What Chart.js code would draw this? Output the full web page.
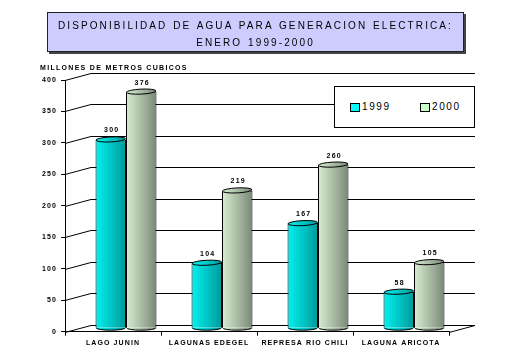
<!DOCTYPE html>
<html><head><meta charset="utf-8">
<script src="https://cdn.jsdelivr.net/npm/chart.js@4.4.0/dist/chart.umd.min.js"></script>
<style>
html,body{margin:0;padding:0;background:#fff;}
#wrap{position:relative;width:512px;height:357px;overflow:hidden;}
#c{position:absolute;left:0;top:0;}
#title{position:absolute;left:47px;top:12px;width:415px;height:38px;box-sizing:content-box;background:#CCCCFF;border:1px solid #222;box-shadow:2px 2px 0 #444;font-family:Arial,"Liberation Sans",sans-serif;font-size:10px;letter-spacing:2.1px;word-spacing:1px;text-align:center;line-height:17px;padding:0;color:#000;}
#title div:first-child{margin-top:4px;}
#legend{position:absolute;left:334px;top:86px;width:139px;height:40px;background:#fff;border:1px solid #000;font-family:Arial,"Liberation Sans",sans-serif;font-size:10px;letter-spacing:1.6px;color:#000;}
.li{position:absolute;top:16px;height:10px;line-height:10px;}
.sw{position:absolute;left:0;top:0;width:8px;height:7px;border:1px solid #000;}
.lt{position:absolute;left:12px;top:-1px;white-space:nowrap;}
</style>
</head><body>
<div id="wrap">
<canvas id="c" width="512" height="357"></canvas>
<div id="title"><div>DISPONIBILIDAD DE AGUA PARA GENERACION ELECTRICA:</div><div>ENERO 1999-2000</div></div>
<div id="legend"></div>
</div>
<script>
// ---- data ----
const categories = ['LAGO JUNIN', 'LAGUNAS EDEGEL', 'REPRESA RIO CHILI', 'LAGUNA ARICOTA'];
const seriesLabels = ['1999', '2000'];
const values1999 = [300, 104, 167, 58];
const values2000 = [376, 219, 260, 105];
const yTicks = [0, 50, 100, 150, 200, 250, 300, 350, 400];
const yAxisTitle = 'MILLONES DE METROS CUBICOS';

// ---- styles ----
const lightColors = ['#00F2F2', '#D8EFD2'];
const darkColors = ['#009A9A', '#7A8877'];
const legendColors = ['#00FFFF', '#CCFFCC'];
const CAT_PCT = 0.635;
const DX = 13, DY = -3.5;     // bar depth position
const GDX = 26, GDY = -7;     // back wall offset
const SMALL_FONT = 'bold 7px Arial, "Liberation Sans", sans-serif';

function barGradient(c) {
  const chart = c.chart;
  const xs = chart.scales && chart.scales.x;
  const i = c.datasetIndex;
  if (!xs || !xs.width || c.dataIndex === undefined) return lightColors[i];
  const cw = xs.width / categories.length;
  const w = cw * CAT_PCT / 2;
  const center = xs.getPixelForValue(c.dataIndex);
  const left = i === 0 ? center - w : center;
  const g = chart.ctx.createLinearGradient(left, 0, left + w, 0);
  g.addColorStop(0, lightColors[i]);
  g.addColorStop(1, darkColors[i]);
  return g;
}

const cylinderPlugin = {
  id: 'cylinder',
  beforeDraw(chart) {
    chart.ctx.letterSpacing = '1.1px';
  },
  beforeDatasetsDraw(chart) {
    const ctx = chart.ctx;
    const ys = chart.scales.y;
    const {left, right, bottom} = chart.chartArea;
    ctx.save();
    ctx.strokeStyle = '#000';
    ctx.lineWidth = 1;
    yTicks.forEach(v => {
      const y = Math.round(ys.getPixelForValue(v)) + 0.5;
      ctx.beginPath();
      ctx.moveTo(left, y);
      ctx.lineTo(left + GDX, y + GDY);
      ctx.lineTo(right + GDX, y + GDY);
      ctx.stroke();
    });
    const yb = Math.round(bottom) + 0.5;
    ctx.beginPath();
    ctx.moveTo(right, yb);
    ctx.lineTo(right + GDX, yb + GDY);
    ctx.stroke();
    // axis title
    ctx.fillStyle = '#000';
    ctx.font = SMALL_FONT;
    ctx.letterSpacing = '1.3px';
    ctx.textAlign = 'left';
    ctx.textBaseline = 'middle';
    ctx.fillText(yAxisTitle, 40, 68);
    ctx.restore();
    ctx.save();
    ctx.translate(DX, DY);
  },
  afterDatasetsDraw(chart) {
    const ctx = chart.ctx;
    ctx.restore();
    ctx.save();
    chart.data.datasets.forEach((ds, di) => {
      const meta = chart.getDatasetMeta(di);
      meta.data.forEach((el, i) => {
        const cx = el.x + DX, top = el.y + DY, base = el.base + DY, w = el.width;
        const g = ctx.createLinearGradient(cx - w / 2, 0, cx + w / 2, 0);
        g.addColorStop(0, lightColors[di]);
        g.addColorStop(1, darkColors[di]);
        // bottom
        ctx.beginPath();
        ctx.ellipse(cx, base, w / 2 - 0.5, 2.5, 0, 0, Math.PI);
        ctx.fillStyle = g;
        ctx.fill();
        ctx.strokeStyle = '#000';
        ctx.lineWidth = 1;
        ctx.stroke();
        // top cap
        ctx.beginPath();
        ctx.ellipse(cx, top, w / 2 - 0.5, 2.5, -0.05, 0, Math.PI * 2);
        ctx.fillStyle = g;
        ctx.fill();
        ctx.stroke();
        // value label
        ctx.fillStyle = '#000';
        ctx.font = SMALL_FONT;
        ctx.letterSpacing = '1.3px';
        ctx.textAlign = 'center';
        ctx.textBaseline = 'middle';
        ctx.fillText(String(ds.data[i]), cx + 1, top - 9);
      });
    });
    ctx.restore();
  }
};

const tickFont = {family: 'Arial, "Liberation Sans", sans-serif', size: 7, weight: 'bold'};

new Chart(document.getElementById('c'), {
  type: 'bar',
  data: {
    labels: categories,
    datasets: [
      {label: seriesLabels[0], data: values1999, backgroundColor: barGradient, borderColor: '#000', borderWidth: 1, categoryPercentage: CAT_PCT, barPercentage: 1.0, clip: false},
      {label: seriesLabels[1], data: values2000, backgroundColor: barGradient, borderColor: '#000', borderWidth: 1, categoryPercentage: CAT_PCT, barPercentage: 1.0, clip: false}
    ]
  },
  options: {
    responsive: false,
    animation: false,
    events: [],
    layout: {padding: {left: 0, right: 63, top: 80, bottom: 0}},
    plugins: {legend: {display: false}, tooltip: {enabled: false}, title: {display: false}},
    scales: {
      x: {
        grid: {drawOnChartArea: false, drawTicks: true, tickLength: 4, color: '#000', offset: true},
        border: {color: '#000'},
        ticks: {font: tickFont, color: '#000', padding: 3, maxRotation: 0, autoSkip: false},
        afterFit(s) { s.height = 25.3; }
      },
      y: {
        min: 0, max: 400,
        afterBuildTicks(s) { s.ticks = yTicks.map(v => ({value: v})); },
        ticks: {font: tickFont, color: '#000', padding: 4},
        grid: {drawOnChartArea: false, drawTicks: true, tickLength: 4, color: '#000'},
        border: {color: '#000'},
        afterFit(s) { s.width = 65; }
      }
    }
  },
  plugins: [cylinderPlugin]
});

// HTML legend built from the series
const lg = document.getElementById('legend');
const lx = [15, 85];
seriesLabels.forEach((lab, i) => {
  const d = document.createElement('div');
  d.className = 'li';
  d.style.left = lx[i] + 'px';
  d.innerHTML = '<span class="sw" style="background:' + legendColors[i] + '"></span><span class="lt">' + lab + '</span>';
  lg.appendChild(d);
});
</script>
</body></html>
